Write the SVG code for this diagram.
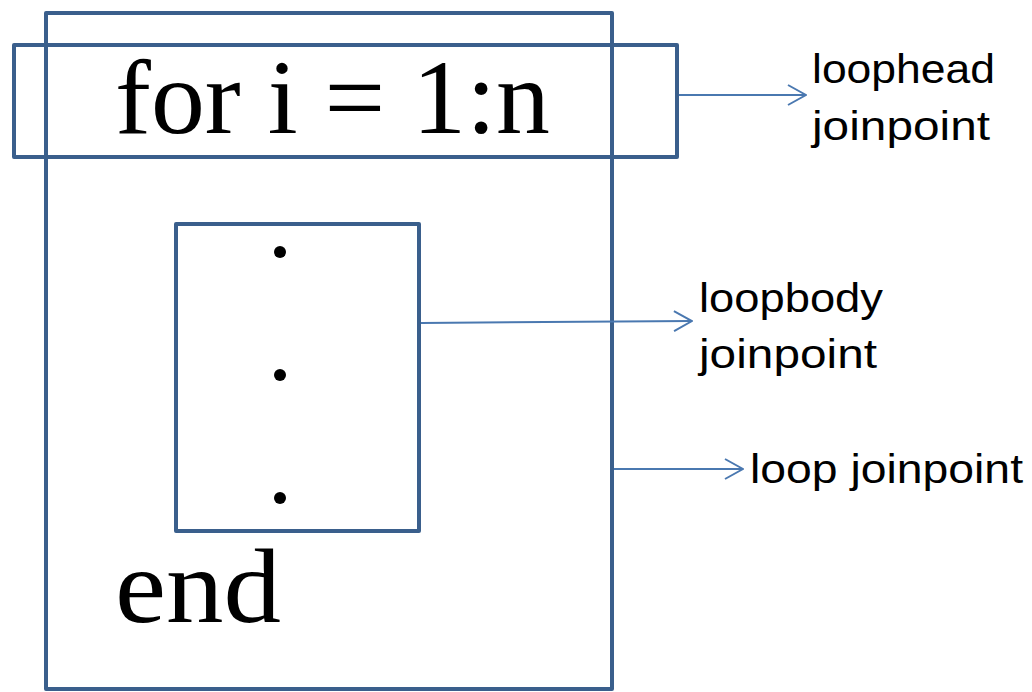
<svg xmlns="http://www.w3.org/2000/svg" width="1032" height="692" viewBox="0 0 1032 692">
  <style>
    .box { fill: none; stroke: #3a5f8c; stroke-width: 4; stroke-linejoin: round; }
    .code { font-family: "Liberation Serif", "Times New Roman", serif; font-size: 106px; fill: #000; }
    .label { font-family: "Liberation Sans", Arial, sans-serif; font-size: 41px; fill: #000; }
    .conn { fill: none; stroke: #4a78b0; stroke-width: 2; }
  </style>
  <defs>
    <marker id="open-arrow" viewBox="0 0 20 22" refX="19" refY="11" markerWidth="20" markerHeight="22" markerUnits="userSpaceOnUse" orient="auto">
      <path d="M1 1 L19 11 L1 21" fill="none" stroke="#4a78b0" stroke-width="2"/>
    </marker>
  </defs>
  <rect width="1032" height="692" fill="#fff"/>

  <!-- whole loop statement -->
  <g id="loop">
    <rect class="box" x="46" y="13" width="566" height="676"/>
    <text class="code" x="115" y="622" textLength="166" lengthAdjust="spacingAndGlyphs">end</text>
  </g>

  <!-- loop header -->
  <g id="loophead">
    <rect class="box" x="14" y="45" width="663" height="112"/>
    <text class="code" x="115" y="133" textLength="435" lengthAdjust="spacingAndGlyphs">for i = 1:n</text>
  </g>

  <!-- loop body -->
  <g id="loopbody">
    <rect class="box" x="176" y="224" width="243" height="307"/>
    <circle cx="280" cy="252" r="6" fill="#000"/>
    <circle cx="280" cy="375" r="6" fill="#000"/>
    <circle cx="280" cy="498" r="6" fill="#000"/>
  </g>

  <!-- joinpoint labels -->
  <g id="label-loophead">
    <text class="label" x="812" y="83" textLength="183" lengthAdjust="spacingAndGlyphs">loophead</text>
    <text class="label" x="812" y="140" textLength="178" lengthAdjust="spacingAndGlyphs">joinpoint</text>
  </g>
  <g id="label-loopbody">
    <text class="label" x="699" y="312" textLength="184" lengthAdjust="spacingAndGlyphs">loopbody</text>
    <text class="label" x="699" y="368" textLength="178" lengthAdjust="spacingAndGlyphs">joinpoint</text>
  </g>
  <g id="label-loop">
    <text class="label" x="750" y="483" textLength="273" lengthAdjust="spacingAndGlyphs">loop joinpoint</text>
  </g>

  <!-- connectors -->
  <g id="connectors">
    <line class="conn" x1="679" y1="95" x2="806" y2="95" marker-end="url(#open-arrow)"/>
    <line class="conn" x1="421" y1="323" x2="692" y2="321" marker-end="url(#open-arrow)"/>
    <line class="conn" x1="614" y1="469" x2="743" y2="469" marker-end="url(#open-arrow)"/>
  </g>
</svg>
